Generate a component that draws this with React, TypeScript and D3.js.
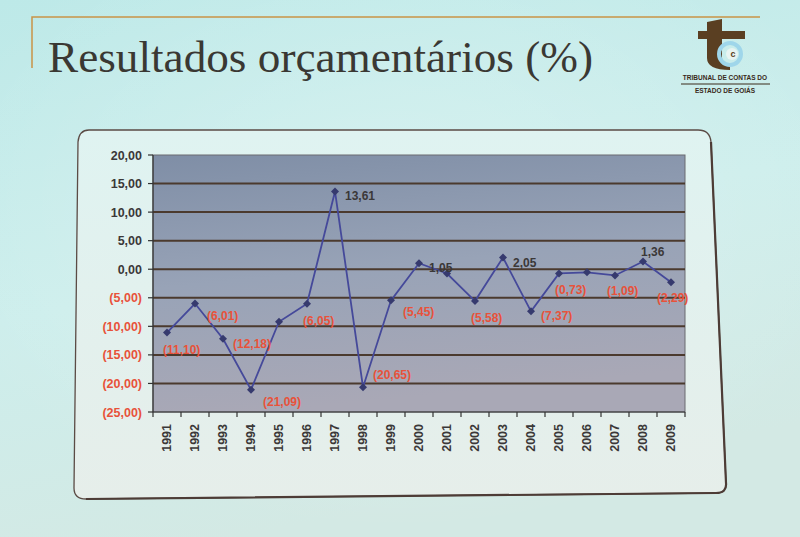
import React from "react";
import * as d3 from "d3";

const years = ["1991","1992","1993","1994","1995","1996","1997","1998","1999","2000","2001","2002","2003","2004","2005","2006","2007","2008","2009"];
const values = [-11.10,-6.01,-12.18,-21.09,-9.2,-6.05,13.61,-20.65,-5.45,1.05,-0.75,-5.58,2.05,-7.37,-0.73,-0.55,-1.09,1.36,-2.29];
const showLabel = [true,true,true,true,false,true,true,true,true,true,false,true,true,true,true,false,true,true,true];
const labelPos = ["below","belowRight","right","belowRight","none","below","right","aboveRight","belowRight","right","none","below","right","right","below","none","belowLeft","above","belowLeft"];
const yTicks = [20,15,10,5,0,-5,-10,-15,-20,-25];
const title = "Resultados orçamentários (%)";

const W = 800, H = 537;
const plot = { left: 153, right: 685, top: 155, bottom: 412 };

function fmt(v: number): string {
  const s = Math.abs(v).toFixed(2).replace(".", ",");
  return v < 0 ? `(${s})` : s;
}

export default function App() {
  const x = d3.scaleBand<string>().domain(years).range([plot.left, plot.right]);
  const y = d3.scaleLinear().domain([-25, 20]).range([plot.bottom, plot.top]);
  const line = d3.line<number>().x((_, i) => (x(years[i]) as number) + x.bandwidth() / 2).y(d => y(d));
  const red = "#e8523a";
  const dark = "#3b3838";
  const offs: Record<string, [number, number, string]> = {
    below: [-4, 17, "start"],
    belowRight: [12, 12, "start"],
    right: [10, 5, "start"],
    aboveRight: [10, -12, "start"],
    above: [-2, -9, "start"],
    belowLeft: [-8, 16, "start"],
    none: [0, 0, "start"],
  };
  // box with slightly skewed right edge (projection)
  const box = "M89,130 L698,130 Q710,130 711,142 L726,483 Q727,493 716,493 L86,499 Q74,499 74,488 L78,142 Q79,130 89,130 Z";
  return (
    <svg width={W} height={H} style={{ position: "fixed", left: 0, top: 0 }} fontFamily="Liberation Sans, Arial, sans-serif">
      <defs>
        <linearGradient id="bgl" x1="0" y1="0" x2="0.3" y2="1">
          <stop offset="0" stopColor="#bde9e8" />
          <stop offset="0.55" stopColor="#cdeeec" />
          <stop offset="1" stopColor="#d3e9e4" />
        </linearGradient>
        <radialGradient id="bg" cx="0.5" cy="0.4" r="0.6">
          <stop offset="0" stopColor="#ffffff" stopOpacity={0.25} />
          <stop offset="1" stopColor="#ffffff" stopOpacity={0} />
        </radialGradient>
        <linearGradient id="plotbg" x1="0" y1="0" x2="0.2" y2="1">
          <stop offset="0" stopColor="#7f8ea6" />
          <stop offset="0.5" stopColor="#98a3b7" />
          <stop offset="1" stopColor="#a9a8b6" />
        </linearGradient>
        <linearGradient id="box" x1="0" y1="0" x2="0" y2="1">
          <stop offset="0" stopColor="#dff3f1" />
          <stop offset="1" stopColor="#e6eeea" />
        </linearGradient>
      </defs>
      <rect x={0} y={0} width={W} height={H} fill="url(#bgl)" />
      <rect x={0} y={0} width={W} height={H} fill="url(#bg)" />
      {/* frame lines */}
      <path d="M32,68 L32,17 L760,17" fill="none" stroke="#c99447" strokeWidth={1.5} />
      <text x={48} y={72} fontFamily="Liberation Serif, serif" fontSize={44} fill="#3a3833" textLength={545} lengthAdjust="spacingAndGlyphs">{title}</text>
      {/* logo */}
      <g>
        <path d="M698,31 L745,31 L745,39 L722,39 L722,58 Q722,66 730,66 L730,70 Q707,70 707,58 L707,39 L698,39 Z M707,31 L707,22 L722,19 L722,31 Z" fill="#5a3f22" />
        <circle cx={730} cy={54} r={11} fill="none" stroke="#9fd6ea" strokeWidth={4} />
        <circle cx={732} cy={54} r={6} fill="#e8f4f2" />
        <text x={733} y={57} fontSize={9} fontWeight="bold" fill="#5a3f22" textAnchor="middle">c</text>
        <text x={725} y={80} fontSize={6.5} fontWeight="bold" fill="#3a2a1a" textAnchor="middle">TRIBUNAL DE CONTAS DO</text>
        <line x1={681} x2={770} y1={84} y2={84} stroke="#3a2a1a" strokeWidth={1.2} />
        <text x={725} y={93} fontSize={6.5} fontWeight="bold" fill="#3a2a1a" textAnchor="middle">ESTADO DE GOIÁS</text>
      </g>
      {/* chart box */}
      <path d={box} fill="url(#box)" stroke="#5b4b45" strokeWidth={1.3} />
      <path d="M711,142 L726,483 Q727,493 716,493 L86,499" fill="none" stroke="#4d3c36" strokeWidth={2.2} />
      {/* plot */}
      <rect x={plot.left} y={plot.top} width={plot.right - plot.left} height={plot.bottom - plot.top} fill="url(#plotbg)" stroke="#6a6a70" strokeWidth={1} />
      {yTicks.map(t => (
        <g key={t}>
          {t !== 20 && t !== -25 && (
            <line x1={plot.left} x2={plot.right} y1={y(t)} y2={y(t)} stroke="#4b3a2e" strokeWidth={2} />
          )}
          <line x1={plot.left - 5} x2={plot.left} y1={y(t)} y2={y(t)} stroke="#333" strokeWidth={1.2} />
          <text x={142} y={y(t) + 4.5} fontSize={12.5} fontWeight="bold" textAnchor="end" fill={t < 0 ? red : dark}>{fmt(t)}</text>
        </g>
      ))}
      <line x1={plot.left} x2={plot.left} y1={plot.top} y2={plot.bottom} stroke="#333" strokeWidth={1.2} />
      <line x1={plot.left} x2={plot.right} y1={plot.bottom} y2={plot.bottom} stroke="#333" strokeWidth={1.2} />
      {years.map(yr => (
        <line key={"t" + yr} x1={x(yr) as number} x2={x(yr) as number} y1={plot.bottom} y2={plot.bottom + 5} stroke="#333" strokeWidth={1.2} />
      ))}
      <line x1={plot.right} x2={plot.right} y1={plot.bottom} y2={plot.bottom + 5} stroke="#333" strokeWidth={1.2} />
      {years.map(yr => {
        const cx = (x(yr) as number) + x.bandwidth() / 2 + 4;
        return (
          <text key={"l" + yr} transform={`translate(${cx},${plot.bottom + 12}) rotate(-90)`} fontSize={12.5} fontWeight="bold" fill={dark} textAnchor="end">{yr}</text>
        );
      })}
      <path d={line(values) || ""} fill="none" stroke="#45499a" strokeWidth={1.8} />
      {values.map((v, i) => {
        const cx = (x(years[i]) as number) + x.bandwidth() / 2;
        const cy = y(v);
        return <path key={"m" + i} d={`M${cx},${cy - 4}L${cx + 4},${cy}L${cx},${cy + 4}L${cx - 4},${cy}Z`} fill="#363a6e" />;
      })}
      {values.map((v, i) => {
        if (!showLabel[i]) return null;
        const cx = (x(years[i]) as number) + x.bandwidth() / 2;
        const cy = y(v);
        const [dx, dy, anchor] = offs[labelPos[i]];
        const dxx = labelPos[i] === "belowLeft" && i === years.length - 1 ? -14 : dx;
        return (
          <text key={"d" + i} x={cx + dxx} y={cy + dy + 4} fontSize={12} fontWeight="bold" fill={v < 0 ? red : dark} textAnchor={anchor}>{fmt(v)}</text>
        );
      })}
    </svg>
  );
}
